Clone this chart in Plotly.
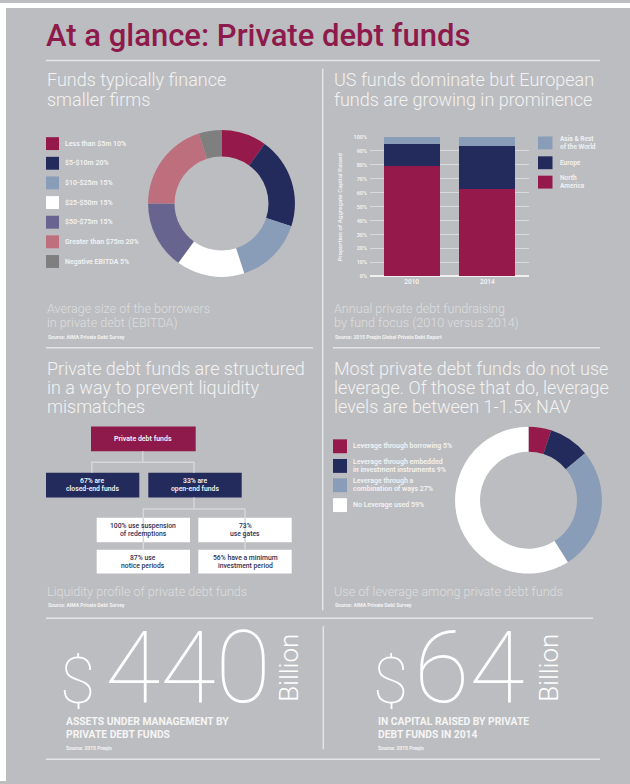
import plotly.graph_objects as go

W, H = 630, 784
FONT = "Roboto"

# ---------------- data ----------------
title_text = "At a glance: Private debt funds"

ebitda_labels = ["Less than $5m", "$5-$10m", "$10-$25m", "$25-$50m",
                 "$50-$75m", "Greater than $75m", "Negative EBITDA"]
ebitda_values = [10, 20, 15, 15, 15, 20, 5]
ebitda_colors = ["#951a4b", "#232a5c", "#8a9db8", "#ffffff",
                 "#67658f", "#bd6f7d", "#7f7f80"]

fund_years = ["2010", "2014"]
north_america = [79, 62.5]
europe = [16, 31]
asia_rest = [5, 6.5]
region_names = ["Asia & Rest|of the World", "Europe", "North|America"]
region_colors = ["#8a9db8", "#232a5c", "#951a4b"]
y_ticks = [0, 10, 20, 30, 40, 50, 60, 70, 80, 90, 100]

leverage_labels = ["Leverage through borrowing",
                   "Leverage through embedded|in investment instruments",
                   "Leverage through a|combination of ways",
                   "No Leverage used"]
leverage_values = [5, 9, 27, 59]
leverage_colors = ["#951a4b", "#232a5c", "#8a9db8", "#ffffff"]

org_top = "Private debt funds"
org_mid = ["67% are|closed-end funds", "33% are|open-end funds"]
org_low = ["100% use suspension|of redemptions", "73%|use gates",
           "87% use|notice periods", "56% have a minimum|investment period"]

stat_values = ["440", "64"]
stat_text = ["ASSETS UNDER MANAGEMENT BY|PRIVATE DEBT FUNDS",
             "IN CAPITAL RAISED BY PRIVATE|DEBT FUNDS IN 2014"]
stat_source = "Source: 2015 Preqin"

# ---------------- styles ----------------
BG = "#bcbdc0"
CRIMSON = "#8e1a4b"
NAVY = "#232a5c"
HEAD = "#f3f3f3"
CAP = "#dcdddf"
LINE = "#e4e5e7"
CONN = "#d6d7da"


def px(x):
    return x / W


def py(y):
    return 1 - y / H


annotations = []
shapes = []


def txt(x, y, text, size, color=HEAD, weight=400, xanchor="left",
        angle=0, family=FONT, height=None):
    a = dict(
        x=px(x), y=py(y), xref="paper", yref="paper", text=text,
        showarrow=False, xanchor=xanchor, yanchor="middle",
        textangle=angle, align=xanchor if xanchor != "center" else "center",
        font=dict(family=family, size=size, color=color, weight=weight))
    if height is not None:
        a["height"] = height
        a["valign"] = "middle"
    annotations.append(a)


def lines(x, y, parts, size, step, **kw):
    for i, p in enumerate(parts):
        txt(x, y + i * step, p, size, **kw)


def hline(x0, x1, y, color=LINE, w=1.5):
    shapes.append(dict(type="line", xref="paper", yref="paper",
                       x0=px(x0), x1=px(x1), y0=py(y), y1=py(y),
                       line=dict(color=color, width=w)))


def vline(x, y0, y1, color=LINE, w=1.5):
    shapes.append(dict(type="line", xref="paper", yref="paper",
                       x0=px(x), x1=px(x), y0=py(y0), y1=py(y1),
                       line=dict(color=color, width=w)))


def rect(x0, y0, x1, y1, color):
    shapes.append(dict(type="rect", xref="paper", yref="paper",
                       x0=px(x0), x1=px(x1), y0=py(y0), y1=py(y1),
                       line=dict(width=0), fillcolor=color, layer="below"))


# white frame strips
rect(0, 0, W, 5, "#ffffff")
rect(0, 0, 6, H, "#ffffff")

# ---------------- title & dividers ----------------
txt(44, 33, title_text, 31, color=CRIMSON, weight=500)
hline(46, 600, 58)
vline(322.7, 66, 612)
hline(46, 313, 347.5)
hline(333, 600, 347.5)
hline(46, 593, 620)
hline(46, 600, 762)
vline(323.3, 628, 752)

# ---------------- section headings ----------------
lines(45, 77, ["Funds typically finance", "smaller firms"], 18, 20, weight=300)
lines(332, 77, ["US funds dominate but European",
                "funds are growing in prominence"], 18, 20, weight=300)
lines(45, 368, ["Private debt funds are structured",
                "in a way to prevent liquidity", "mismatches"], 18, 19.5,
      weight=300)
lines(332, 368, ["Most private debt funds do not use",
                 "leverage. Of those that do, leverage",
                 "levels are between 1-1.5x NAV"], 18, 19.5, weight=300)

# captions
lines(45, 308, ["Average size of the borrowers",
                "in private debt (EBITDA)"], 12.6, 14, color=CAP, weight=300)
txt(46, 337, "Source: AIMA Private Debt Survey", 5, weight=700)
lines(332, 308, ["Annual private debt fundraising",
                 "by fund focus (2010 versus 2014)"], 12.6, 14, color=CAP,
      weight=300)
txt(333, 337, "Source: 2015 Preqin Global Private Debt Report", 5, weight=700)
txt(45, 593, "Liquidity profile of private debt funds", 12.6, color=CAP,
    weight=300)
txt(46, 607, "Source: AIMA Private Debt Survey", 5, weight=700)
txt(332, 593, "Use of leverage among private debt funds", 12.6, color=CAP,
    weight=300)
txt(333, 607, "Source: AIMA Private Debt Survey", 5, weight=700)

fig = go.Figure()

# ---------------- donut 1 ----------------
cx1, cy1, r1 = 221.5, 202, 74
fig.add_trace(go.Pie(
    labels=ebitda_labels, values=ebitda_values, hole=0.64, sort=False,
    direction="clockwise", rotation=0, textinfo="none", hoverinfo="skip",
    showlegend=False, marker=dict(colors=ebitda_colors, line=dict(width=0)),
    domain=dict(x=[px(cx1 - r1), px(cx1 + r1)], y=[py(cy1 + r1), py(cy1 - r1)])))

for i, (lab, val, col) in enumerate(zip(ebitda_labels, ebitda_values, ebitda_colors)):
    yc = 141.7 + i * 19.8
    rect(46, yc - 6.5, 59, yc + 6.5, col)
    txt(62.5, yc, f"{lab} {val}%", 7, weight=600)

# ---------------- stacked bars ----------------
bar_series = [("North America", north_america, region_colors[2]),
              ("Europe", europe, region_colors[1]),
              ("Asia & Rest of the World", asia_rest, region_colors[0])]
for name, vals, col in bar_series:
    fig.add_trace(go.Bar(
        x=[0, 1], y=vals, name=name, marker=dict(color=col, line=dict(width=0)),
        width=0.74, showlegend=False, hoverinfo="skip"))

leg_y = [141, 161, 180.5]
for i, (nm, col) in enumerate(zip(region_names, region_colors)):
    rect(538, leg_y[i] - 6.5, 552.5, leg_y[i] + 6.5, col)
    parts = nm.split("|")
    y0 = leg_y[i] - (len(parts) - 1) * 3.8
    lines(557.5, y0, parts, 6.5, 7.6, weight=600)

txt(340, 206, "Proportion of Aggregate Capital Raised", 6.2, angle=-90,
    xanchor="center", weight=500)

# ---------------- org chart ----------------
rect(91, 426.7, 195.7, 451.7, CRIMSON)
txt(143.3, 439.2, org_top, 7, weight=600, xanchor="center")
vline(142.7, 451.7, 462.7, CONN)
hline(91, 194.5, 462.7, CONN)
vline(91.8, 462.7, 473.3, CONN)
vline(194, 462.7, 473.3, CONN)
mid_boxes = [(46, 139.3), (148.3, 241.7)]
for (x0, x1), label in zip(mid_boxes, org_mid):
    rect(x0, 473.3, x1, 498.3, NAVY)
    p = label.split("|")
    lines((x0 + x1) / 2, 481.7, p, 6.8, 7.7, weight=600, xanchor="center")
vline(194, 498.3, 510, CONN)
hline(142.7, 245, 510, CONN)
vline(143.3, 510, 551, CONN)
vline(245, 510, 551, CONN)
low_boxes = [(96.7, 518.7, 190, 543.3), (198.3, 518.7, 291.7, 543.3),
             (96.7, 551, 190, 575), (198.3, 551, 291.7, 575)]
for (x0, y0, x1, y1), label in zip(low_boxes, org_low):
    rect(x0, y0, x1, y1, "#ffffff")
    p = label.split("|")
    lines((x0 + x1) / 2, y0 + 8.6, p, 6.8, 7.7, color="#2e3158", weight=500,
          xanchor="center")

# ---------------- donut 2 ----------------
cx2, cy2, r2 = 528.5, 501, 74
fig.add_trace(go.Pie(
    labels=[l.replace("|", " ") for l in leverage_labels], values=leverage_values,
    hole=0.66, sort=False, direction="clockwise", rotation=0, textinfo="none",
    hoverinfo="skip", showlegend=False,
    marker=dict(colors=leverage_colors, line=dict(width=0)),
    domain=dict(x=[px(cx2 - r2), px(cx2 + r2)], y=[py(cy2 + r2), py(cy2 - r2)])))

lev_y = [446.7, 466.5, 486, 506]
for i, (lab, val, col) in enumerate(zip(leverage_labels, leverage_values, leverage_colors)):
    rect(333, lev_y[i] - 7, 347, lev_y[i] + 7, col)
    parts = lab.split("|")
    parts[-1] = f"{parts[-1]} {val}%"
    y0 = lev_y[i] - (len(parts) - 1) * 4
    lines(350.5, y0, parts, 7, 8.2, weight=600)

# ---------------- big statistics ----------------
stat_x = [(77.5, 187.5, 289, 64), (390.5, 469, 549, 376)]
for (dx, nx, bx, tx), val, tl in zip(stat_x, stat_values, stat_text):
    txt(dx, 683, "$", 64, color="#ffffff", weight=100, xanchor="center",
        height=56)
    txt(nx, 669, val, 101, color="#ffffff", weight=100, xanchor="center",
        height=80)
    txt(bx, 670, "Billion", 26, color="#ffffff", weight=300, xanchor="center",
        angle=-90)
    txt(tx, 731, tl.replace("|", "<br>"), 10.3, color="#f5f5f5", weight=700)
    txt(tx, 751, stat_source, 5, weight=700)

fig.update_layout(
    width=W, height=H, margin=dict(l=0, r=0, t=0, b=0),
    paper_bgcolor=BG, plot_bgcolor="rgba(0,0,0,0)",
    barmode="stack", bargap=0.26, showlegend=False,
    font=dict(family=FONT, color=HEAD),
    xaxis=dict(domain=[px(370), px(529)], range=[-0.55, 1.55],
               tickvals=[0, 1], ticktext=fund_years, showgrid=False,
               zeroline=False, showline=False, ticks="",
               tickfont=dict(size=6.5, color=HEAD, family=FONT, weight=600),
               fixedrange=True),
    yaxis=dict(domain=[py(275.5), py(135)], range=[0, 100],
               tickvals=y_ticks, ticktext=[f"{v}%" for v in y_ticks],
               showgrid=True, gridcolor="#d9dadd", gridwidth=1,
               zeroline=True, zerolinecolor="#f0f0f0", zerolinewidth=1.5,
               showline=False, ticks="", ticklabelstandoff=2,
               tickfont=dict(size=5.5, color=HEAD, family=FONT, weight=600),
               fixedrange=True),
    annotations=annotations, shapes=shapes,
)

fig.write_html("out.html", config={"displayModeBar": False},
               post_script="document.body.style.margin='0';"
                           "document.body.style.overflow='hidden';")
